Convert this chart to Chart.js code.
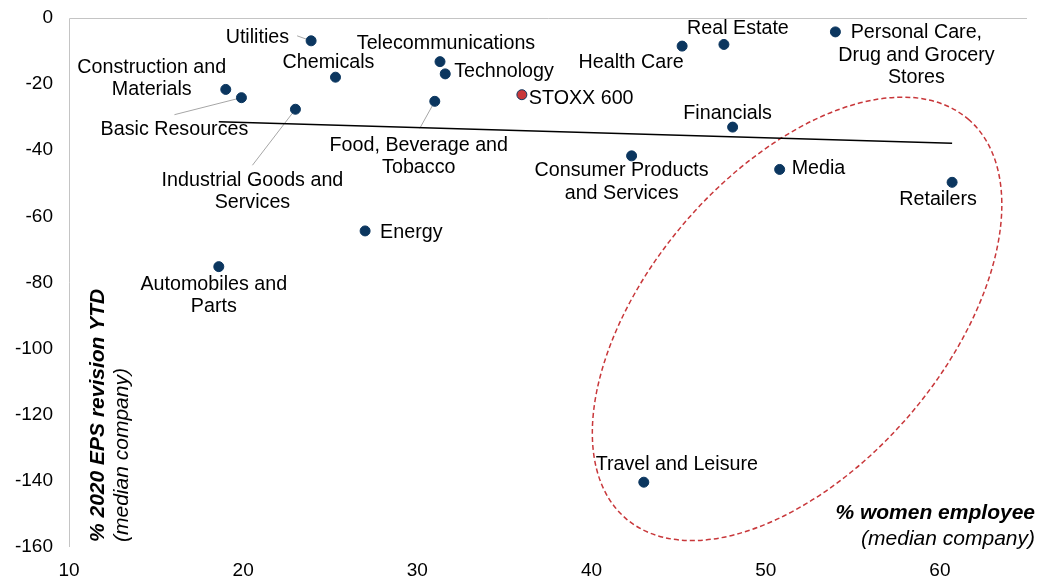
<!DOCTYPE html>
<html>
<head>
<meta charset="utf-8">
<script src="https://cdn.jsdelivr.net/npm/chart.js@4.4.1/dist/chart.umd.min.js"></script>
<style>
  html, body { margin: 0; padding: 0; background: #fff; }
  #wrap { width: 1050px; height: 582px; }
</style>
</head>
<body>
<div id="wrap"><canvas id="chart"></canvas></div>
<script>
// sector medians: % women employees (x) vs % 2020 EPS revision YTD (y)
const sectors = [
  "Automobiles and\nParts",
  "Basic Resources",
  "Chemicals",
  "Construction and\nMaterials",
  "Consumer Products\nand Services",
  "Energy",
  "Financials",
  "Food, Beverage and\nTobacco",
  "Health Care",
  "Industrial Goods and\nServices",
  "Media",
  "Personal Care,\nDrug and Grocery\nStores",
  "Real Estate",
  "Retailers",
  "Technology",
  "Telecommunications",
  "Travel and Leisure",
  "Utilities",
];
const womenPct = [18.6, 19.9, 25.3, 19.0, 42.3, 27.0, 48.1, 31.0, 45.2, 23.0, 50.8, 54.0, 47.6, 60.7, 31.6, 31.3, 43.0, 23.9];
const epsRevision = [-75.2, -24.1, -17.9, -21.6, -41.7, -64.4, -33.0, -25.2, -8.5, -27.6, -45.8, -4.2, -8.0, -49.7, -16.9, -13.2, -140.4, -6.9];

const benchName = "STOXX 600";
const benchX = [36.0];
const benchY = [-23.2];

// linear trend line
const trendX = [18.6, 60.7];
const trendY = [-31.4, -37.9];

const xTicks = [10, 20, 30, 40, 50, 60];
const yTicks = [0, -20, -40, -60, -80, -100, -120, -140, -160];

// label placement relative to each dot (pixels): dx, dy of first line, align, optional leader start
const labelLayout = [
  { dx: -5, dy: 18, align: "center" },
  { dx: -67, dy: 32, align: "center", leader: [-67, 17] },
  { dx: -7, dy: -15, align: "center" },
  { dx: -74, dy: -22, align: "center" },
  { dx: -10, dy: 15, align: "center" },
  { dx: 15, dy: 2, align: "left" },
  { dx: -5, dy: -14, align: "center" },
  { dx: -16, dy: 44, align: "center", leader: [-15, 27] },
  { dx: -51, dy: 16, align: "center" },
  { dx: -43, dy: 71, align: "center", leader: [-43, 56] },
  { dx: 12, dy: -1, align: "left" },
  { dx: 81, dy: 1, align: "center" },
  { dx: 14, dy: -16, align: "center" },
  { dx: -14, dy: 17, align: "center" },
  { dx: 9, dy: -2, align: "left" },
  { dx: 6, dy: -18, align: "center" },
  { dx: 33, dy: -18, align: "center" },
  { dx: -22, dy: -3, align: "right", leader: [-14, -5] },
];
const benchLayout = { dx: 7, dy: 4, align: "left" };

const FONT = "'Liberation Sans', Arial, sans-serif";
const NAVY = "#0b365f";
const RED = "#c8373a";
const LINE_H = 22.4;

function drawLabel(ctx, px, py, text, lay) {
  ctx.textAlign = lay.align;
  ctx.textBaseline = "middle";
  text.split("\n").forEach((line, i) => {
    ctx.fillText(line, px + lay.dx, py + lay.dy + i * LINE_H);
  });
}

const decorPlugin = {
  id: "decor",
  beforeDatasetsDraw(chart) {
    const { ctx, chartArea, scales } = chart;
    const { x, y } = scales;
    ctx.save();
    // axis lines: horizontal axis crosses at 0 (top), vertical at 10 (left)
    ctx.strokeStyle = "#c4c4c4";
    ctx.lineWidth = 1;
    ctx.beginPath();
    ctx.moveTo(chartArea.left + 0.5, chartArea.bottom);
    ctx.lineTo(chartArea.left + 0.5, y.getPixelForValue(0) + 0.5);
    ctx.lineTo(chartArea.right, y.getPixelForValue(0) + 0.5);
    ctx.stroke();

    // leader lines
    ctx.strokeStyle = "#a6a6a6";
    ctx.lineWidth = 1;
    labelLayout.forEach((lay, i) => {
      if (!lay.leader) return;
      const px = x.getPixelForValue(womenPct[i]);
      const py = y.getPixelForValue(epsRevision[i]);
      ctx.beginPath();
      ctx.moveTo(px + lay.leader[0], py + lay.leader[1]);
      ctx.lineTo(px, py);
      ctx.stroke();
    });

    // dashed ellipse around the high-women-share sectors
    const cx = x.getPixelForValue(51.8);
    const cy = y.getPixelForValue(-91.0);
    ctx.strokeStyle = RED;
    ctx.lineWidth = 1.5;
    ctx.setLineDash([5, 3]);
    ctx.beginPath();
    ctx.ellipse(cx, cy, 263, 148, -49.4 * Math.PI / 180, 0, Math.PI * 2);
    ctx.stroke();
    ctx.restore();
  },
  afterDatasetsDraw(chart) {
    const { ctx, scales } = chart;
    const { x, y } = scales;
    ctx.save();
    ctx.fillStyle = "#000";
    ctx.font = "19.7px " + FONT;
    sectors.forEach((name, i) => {
      drawLabel(ctx, x.getPixelForValue(womenPct[i]), y.getPixelForValue(epsRevision[i]), name, labelLayout[i]);
    });
    drawLabel(ctx, x.getPixelForValue(benchX[0]), y.getPixelForValue(benchY[0]), benchName, benchLayout);

    // axis titles inside the plot
    ctx.textAlign = "right";
    ctx.textBaseline = "middle";
    ctx.font = "italic bold 21px " + FONT;
    ctx.fillText("% women employee", 1035, 513);
    ctx.font = "italic 21px " + FONT;
    ctx.fillText("(median company)", 1035, 539);

    ctx.translate(98, 542);
    ctx.rotate(-Math.PI / 2);
    ctx.textAlign = "left";
    ctx.font = "italic bold 21px " + FONT;
    ctx.fillText("% 2020 EPS revision YTD", 0, 0);
    ctx.font = "italic 21px " + FONT;
    ctx.fillText("(median company)", 0, 24);
    ctx.restore();
  },
};

new Chart(document.getElementById("chart"), {
  type: "scatter",
  data: {
    datasets: [
      {
        type: "line",
        label: "Trend",
        data: trendX.map((v, i) => ({ x: v, y: trendY[i] })),
        borderColor: "#000",
        borderWidth: 1.5,
        pointRadius: 0,
        fill: false,
      },
      {
        label: "Sectors",
        data: womenPct.map((v, i) => ({ x: v, y: epsRevision[i] })),
        backgroundColor: NAVY,
        borderColor: NAVY,
        pointRadius: 5,
      },
      {
        label: benchName,
        data: benchX.map((v, i) => ({ x: v, y: benchY[i] })),
        backgroundColor: RED,
        borderColor: NAVY,
        borderWidth: 1,
        pointRadius: 5,
      },
    ],
  },
  options: {
    responsive: true,
    maintainAspectRatio: false,
    animation: false,
    layout: { padding: { top: 18, right: 23, left: 0, bottom: 0 } },
    plugins: {
      legend: { display: false },
      tooltip: { enabled: false },
    },
    scales: {
      x: {
        type: "linear",
        min: 10,
        max: 65,
        grid: { display: false, drawTicks: false },
        border: { display: false },
        afterBuildTicks: (scale) => { scale.ticks = xTicks.map((v) => ({ value: v })); },
        afterFit: (scale) => { scale.height = 35; },
        ticks: { color: "#000", font: { family: FONT, size: 19 }, padding: 12, maxRotation: 0 },
      },
      y: {
        type: "linear",
        min: -160,
        max: 0,
        grid: { display: false, drawTicks: false },
        border: { display: false },
        afterBuildTicks: (scale) => { scale.ticks = yTicks.map((v) => ({ value: v })); },
        afterFit: (scale) => {
          scale.width = 69;
          // tick padding is horizontal here; don't let it push the plot down
          scale.paddingTop = 11;
          scale.paddingBottom = 11;
        },
        ticks: { color: "#000", font: { family: FONT, size: 19 }, padding: 16 },
      },
    },
  },
  plugins: [decorPlugin],
});
</script>
</body>
</html>
